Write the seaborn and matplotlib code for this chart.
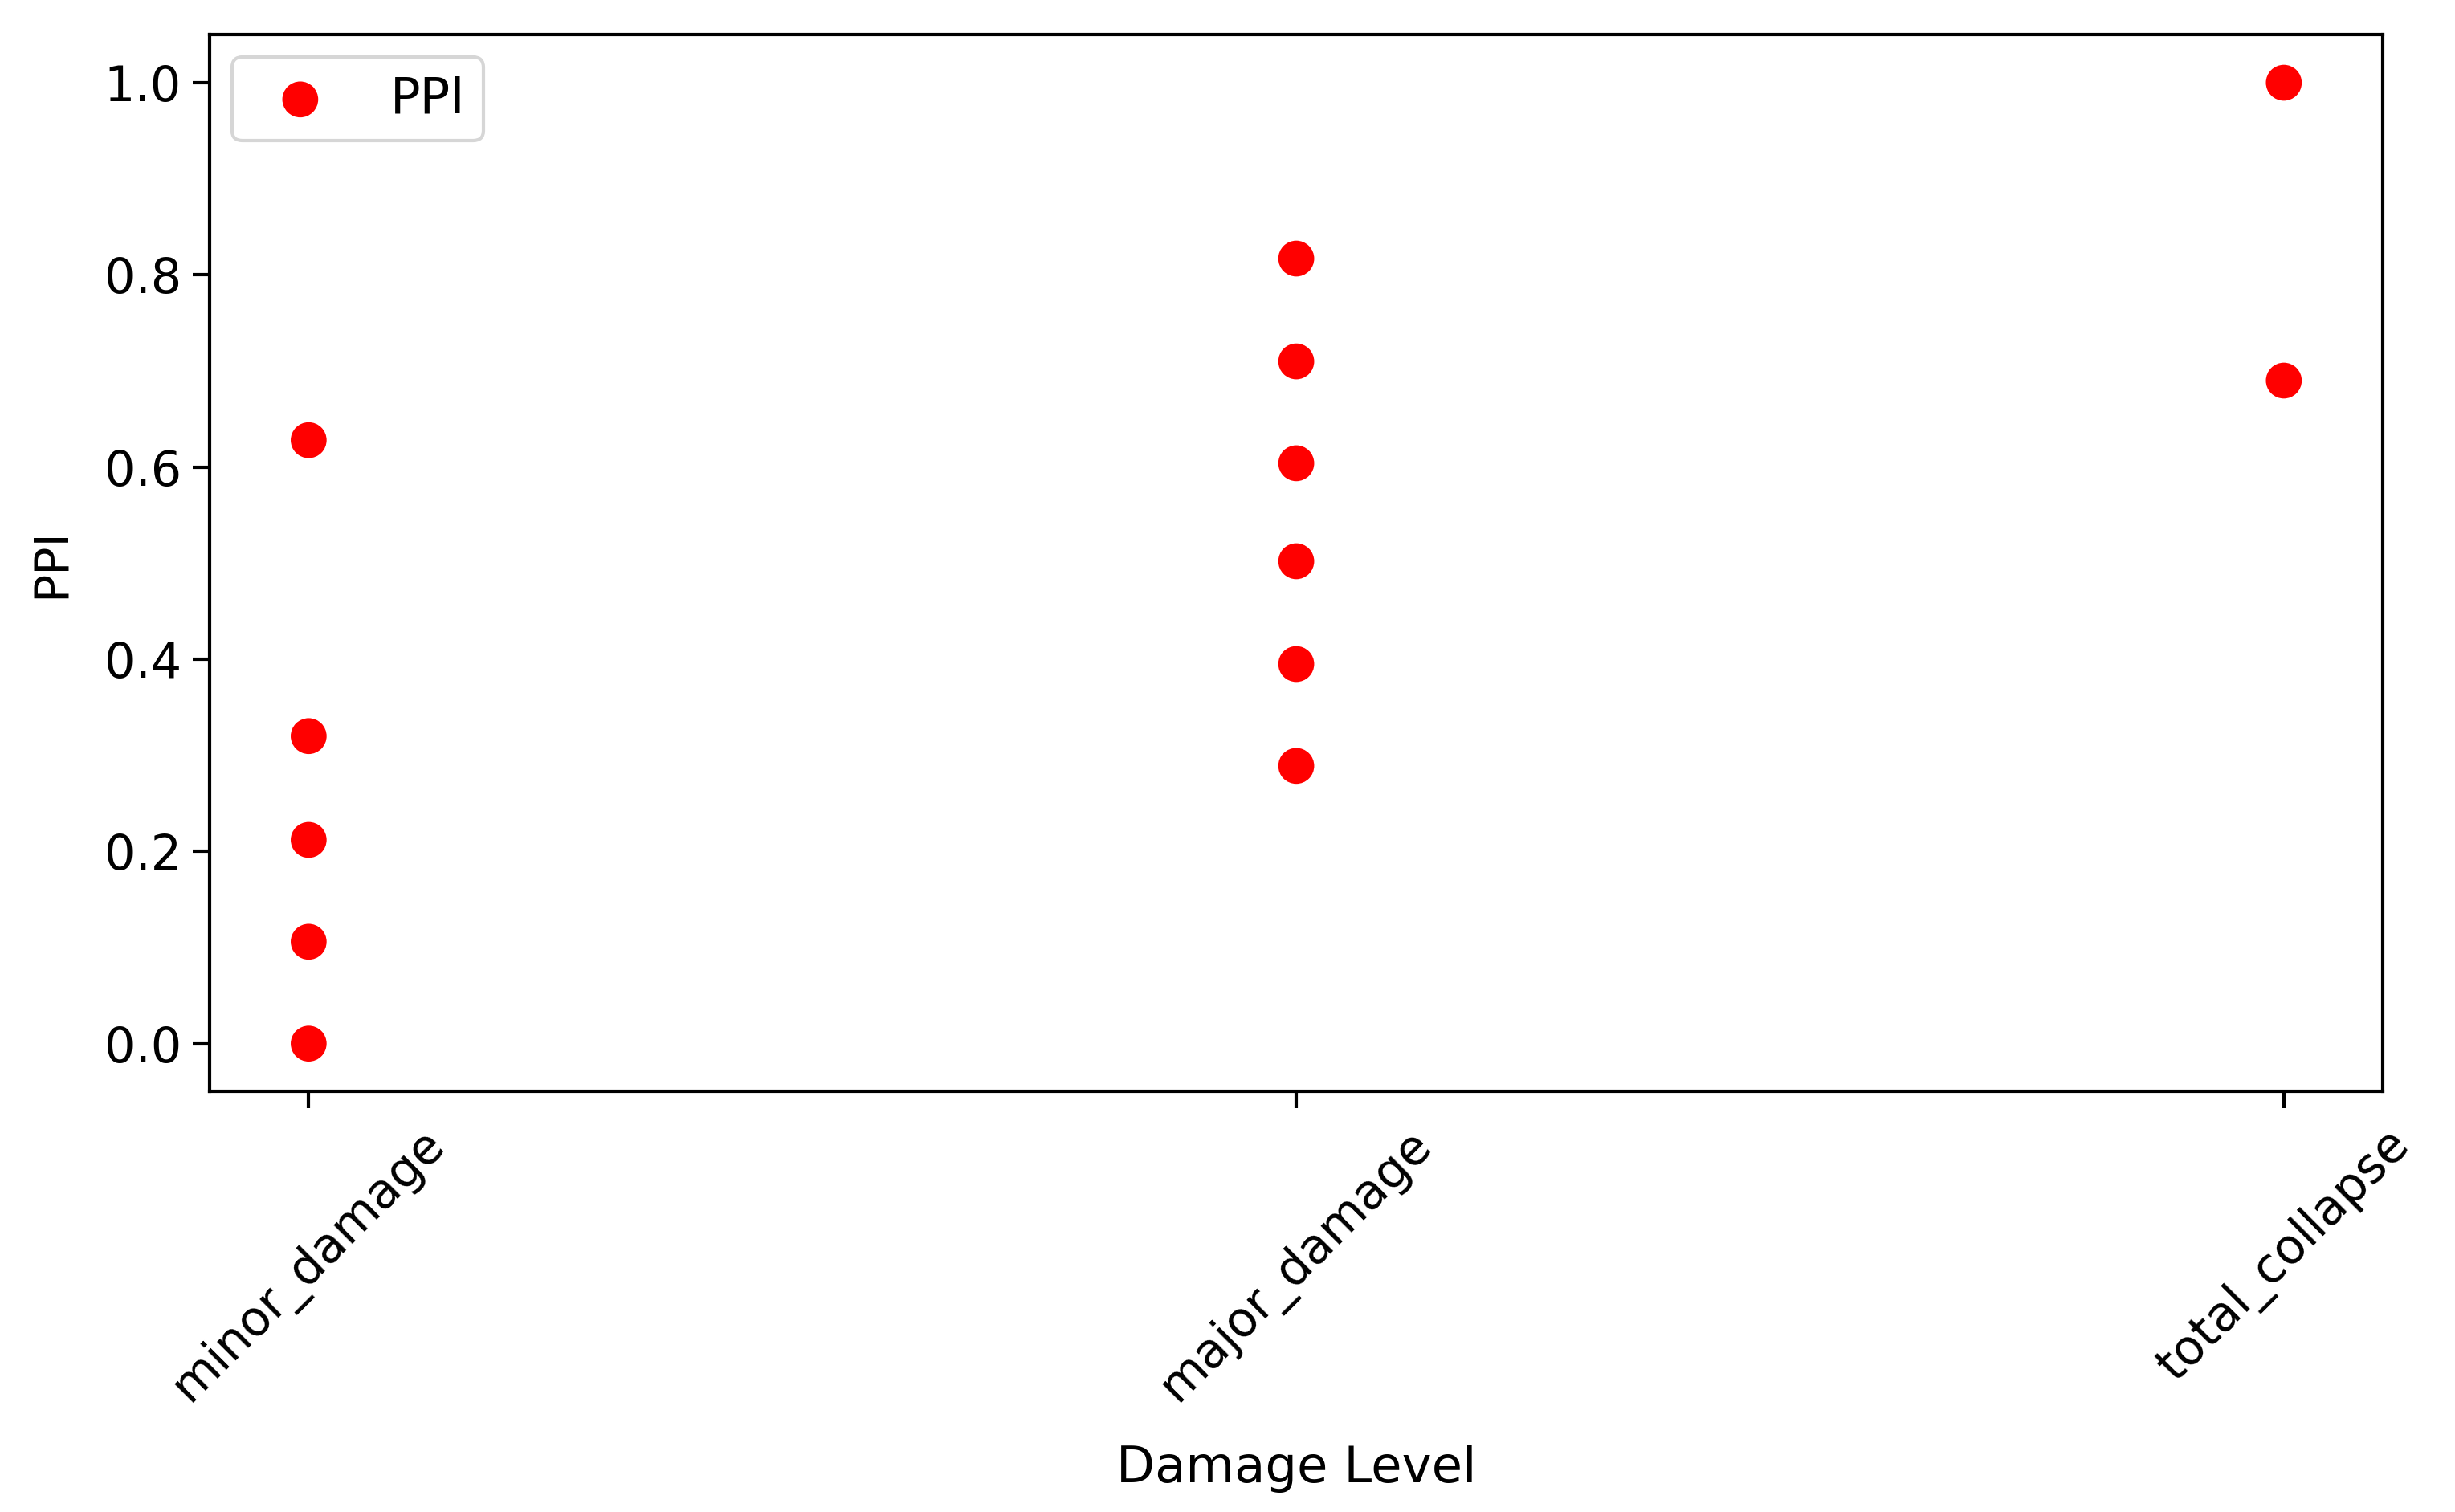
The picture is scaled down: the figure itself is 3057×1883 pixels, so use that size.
import pandas as pd
import matplotlib
matplotlib.use('Agg')
import matplotlib.pyplot as plt
import seaborn as sns

# PPI values, grouped by damage level
minor_damage = [0.628, 0.320, 0.212, 0.106, 0.0]
major_damage = [0.817, 0.710, 0.604, 0.502, 0.395, 0.289]
total_collapse = [1.0, 0.690]
levels = ['minor_damage', 'major_damage', 'total_collapse']

df = pd.DataFrame({
    'Damage Level': ['minor_damage'] * len(minor_damage)
    + ['major_damage'] * len(major_damage)
    + ['total_collapse'] * len(total_collapse),
    'PPI': minor_damage + major_damage + total_collapse,
})
df['Damage Level'] = pd.Categorical(df['Damage Level'], categories=levels, ordered=True)
df['x'] = df['Damage Level'].cat.codes

plt.rcParams['font.family'] = ['DejaVu Sans']
fig = plt.figure(figsize=(10.19, 6.277), dpi=300)
ax = fig.add_axes([0.0855, 0.278, 0.885, 0.699])

sns.scatterplot(data=df, x='x', y='PPI', color='red', s=115, edgecolor='none',
                label='PPI', ax=ax)

ax.set_xticks(range(len(levels)))
ax.set_xticklabels(levels, rotation=45, fontsize=14.5)
ax.set_xlim(-0.1, 2.1)
ax.set_ylim(-0.05, 1.05)
ax.set_yticks([0.0, 0.2, 0.4, 0.6, 0.8, 1.0])
ax.tick_params(axis='y', labelsize=14.5, length=5, width=1.0)
ax.tick_params(axis='x', length=5, width=1.0)
for sp in ax.spines.values():
    sp.set_linewidth(1.0)

ax.set_xlabel('Damage Level', fontsize=15, labelpad=10)
ax.set_ylabel('PPI', fontsize=14, labelpad=9)
ax.legend(loc='upper left', fontsize=15, handletextpad=0.8, borderpad=0.35,
          borderaxespad=0.45)

fig.savefig('out.png', dpi=300)
